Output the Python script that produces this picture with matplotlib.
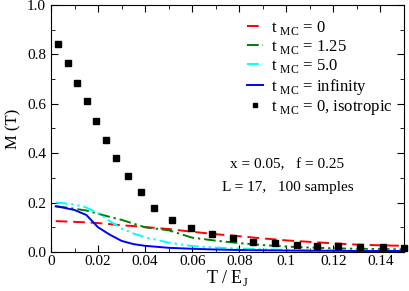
import matplotlib
matplotlib.use("Agg")
import matplotlib.pyplot as plt
from matplotlib.ticker import MultipleLocator

plt.rcParams['font.family'] = ['Liberation Serif', 'DejaVu Serif']
plt.rcParams['mathtext.fontset'] = 'custom'
plt.rcParams['mathtext.rm'] = 'Liberation Serif'

# temperature grid for the curves
T = [0.002, 0.005, 0.01, 0.015, 0.02, 0.025, 0.03, 0.035, 0.04, 0.05,
     0.06, 0.07, 0.08, 0.09, 0.1, 0.11, 0.12, 0.13, 0.14, 0.15]

m_t0 = [0.125, 0.124, 0.122, 0.120, 0.117, 0.113, 0.108, 0.105, 0.101, 0.093,
        0.082, 0.072, 0.064, 0.055, 0.047, 0.041, 0.035, 0.030, 0.027, 0.025]
m_t125 = [0.185, 0.182, 0.175, 0.168, 0.155, 0.142, 0.130, 0.115, 0.100, 0.088,
          0.058, 0.046, 0.036, 0.028, 0.022, 0.018, 0.015, 0.013, 0.012, 0.011]
m_t5 = [0.200, 0.198, 0.192, 0.180, 0.158, 0.125, 0.095, 0.075, 0.060, 0.038,
        0.024, 0.018, 0.014, 0.011, 0.009, 0.008, 0.007, 0.006, 0.006, 0.005]
m_tinf = [0.185, 0.180, 0.170, 0.150, 0.100, 0.070, 0.045, 0.032, 0.025, 0.017,
          0.013, 0.010, 0.008, 0.007, 0.006, 0.005, 0.005, 0.004, 0.004, 0.004]

# isotropic points
T_iso = [0.003, 0.0072, 0.011, 0.0152, 0.0191, 0.0234, 0.0277, 0.0327, 0.0383, 0.0438,
         0.0515, 0.0596, 0.0686, 0.0773, 0.086, 0.0953, 0.1047, 0.113, 0.122, 0.1315,
         0.141, 0.15]
m_iso = [0.842, 0.765, 0.684, 0.611, 0.530, 0.453, 0.380, 0.308, 0.243, 0.178,
         0.130, 0.097, 0.073, 0.057, 0.042, 0.036, 0.028, 0.024, 0.023, 0.020,
         0.020, 0.018]

fig = plt.figure(figsize=(4.09, 2.91), dpi=100)
ax = fig.add_axes([0.1247, 0.134, 0.863, 0.849])

lw = 1.4
ax.plot(T, m_t0, color='red', lw=lw, ls=(0, (6, 3)), label=r't $_{\rm MC}$ = 0')
ax.plot(T, m_t125, color='green', lw=lw, ls=(0, (6, 2, 1.2, 2)), label=r't $_{\rm MC}$ = 1.25')
ax.plot(T, m_t5, color='cyan', lw=lw, ls=(0, (6, 2, 1.2, 2, 1.2, 2)), label=r't $_{\rm MC}$ = 5.0')
ax.plot(T, m_tinf, color='blue', lw=lw, label=r't $_{\rm MC}$ = infinity')
ax.plot(T_iso, m_iso, ls='none', marker='s', ms=4.8, color='black',
        label=r't $_{\rm MC}$ = 0, isotropic', clip_on=False, zorder=5)

ax.set_xlim(0, 0.15)
ax.set_ylim(0, 1.0)
ax.xaxis.set_major_locator(MultipleLocator(0.02))
ax.xaxis.set_minor_locator(MultipleLocator(0.01))
ax.yaxis.set_major_locator(MultipleLocator(0.2))
ax.yaxis.set_minor_locator(MultipleLocator(0.1))
ax.xaxis.set_major_formatter(plt.FuncFormatter(lambda v, p: '0' if abs(v) < 1e-9 else f'{v:g}'))
ax.yaxis.set_major_formatter(plt.FuncFormatter(lambda v, p: f'{v:.1f}'))
ax.tick_params(which='both', direction='in', top=True, right=True, labelsize=11)
ax.tick_params(which='major', length=5)
ax.tick_params(which='minor', length=3)
ax.tick_params(axis='x', pad=2)

ax.set_xlabel(r'T / E$_{\rm J}$', fontsize=13, labelpad=0)
ax.set_ylabel('M (T)', fontsize=12, labelpad=4)

leg = ax.legend(loc='upper right', frameon=False, fontsize=12, handlelength=1.0,
                handletextpad=0.45, labelspacing=0.08, borderaxespad=0.3,
                bbox_to_anchor=(1.0, 0.992), markerscale=0.75)

ax.text(0.67, 0.352, 'x = 0.05,   f = 0.25', transform=ax.transAxes,
        ha='center', va='center', fontsize=11)
ax.text(0.67, 0.262, 'L = 17,   100 samples', transform=ax.transAxes,
        ha='center', va='center', fontsize=11)

fig.savefig('out.png', dpi=100)
